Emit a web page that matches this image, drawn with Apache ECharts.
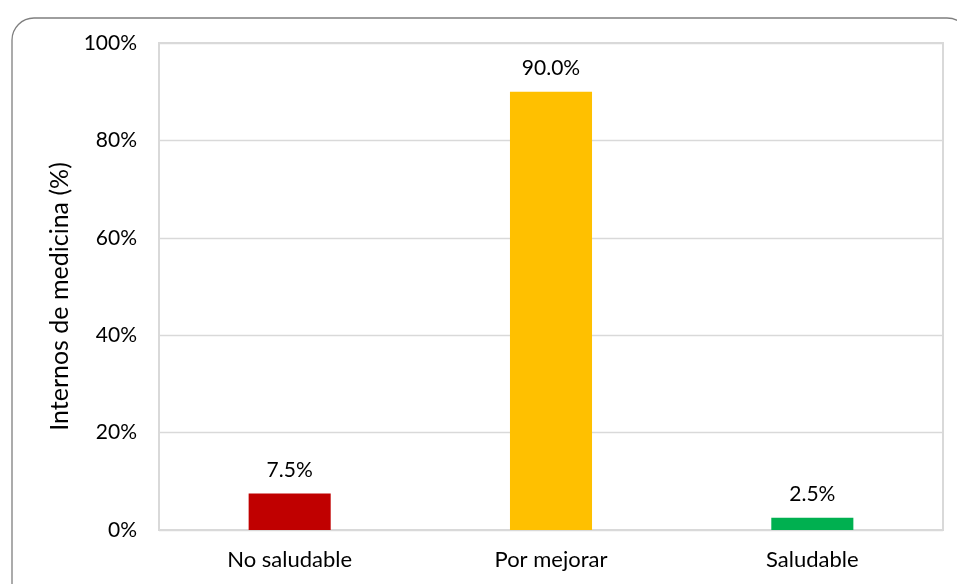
<!DOCTYPE html>
<html>
<head>
<meta charset="utf-8">
<script src="https://cdn.jsdelivr.net/npm/echarts@6/dist/echarts.min.js"></script>
<style>
  html, body { margin: 0; padding: 0; background: #ffffff; }
  #chart { width: 957px; height: 584px; }
</style>
</head>
<body>
<div id="chart"></div>
<script>
// Categories and shares (%) of medical interns
const categories = ['No saludable', 'Por mejorar', 'Saludable'];
const values = [7.5, 90.0, 2.5];
const barColors = ['#C00000', '#FFC000', '#00B050'];
const yTitle = 'Internos de medicina (%)';

const font = 'Lato, "Open Sans", "Liberation Sans", sans-serif';

const chart = echarts.init(document.getElementById('chart'), null, { renderer: 'canvas' });

chart.setOption({
  backgroundColor: '#ffffff',
  animation: false,
  graphic: [{
    type: 'rect',
    left: 9.5, top: 15.5,
    shape: { width: 957, height: 620, r: 22 },
    style: { fill: 'none', stroke: '#7f7f7f', lineWidth: 1.3 },
    silent: true
  }],
  grid: {
    left: 159, top: 43, right: 14, bottom: 54,
    show: true, borderColor: '#d9d9d9', borderWidth: 2
  },
  xAxis: {
    type: 'category',
    data: categories,
    axisLine: { show: true, lineStyle: { color: '#d9d9d9', width: 2 } },
    axisTick: { show: false },
    axisLabel: { color: '#000000', fontSize: 22, fontFamily: font, margin: 19 }
  },
  yAxis: {
    type: 'value',
    min: 0, max: 100, interval: 20,
    name: yTitle,
    nameLocation: 'middle',
    nameGap: 84,
    nameRotate: 90,
    nameTextStyle: { color: '#000000', fontSize: 25, fontFamily: font, padding: [0, 20, 0, 0] },
    axisLine: { show: false },
    axisTick: { show: false },
    splitLine: { lineStyle: { color: '#d9d9d9', width: 1.3 } },
    axisLabel: {
      color: '#000000', fontSize: 21, fontFamily: font, margin: 22,
      formatter: v => v + '%'
    }
  },
  series: [{
    type: 'bar',
    barWidth: '31.4%',
    data: values.map((v, i) => ({ value: v, itemStyle: { color: barColors[i] } })),
    label: {
      show: true,
      position: 'top',
      distance: 13,
      color: '#000000',
      fontSize: 21,
      fontFamily: font,
      formatter: p => p.value.toFixed(1) + '%'
    }
  }]
});
</script>
</body>
</html>
